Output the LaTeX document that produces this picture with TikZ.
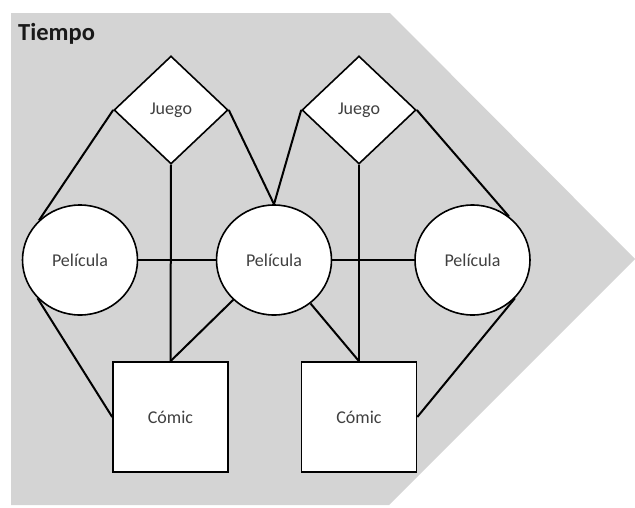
\documentclass[tikz,border=0pt]{standalone}
\usepackage{fontspec}
\setmainfont{Carlito}
\usetikzlibrary{shapes.geometric}
\definecolor{bggray}{RGB}{212,212,212}
\definecolor{txt}{RGB}{64,64,64}
\begin{document}
\begin{tikzpicture}[x=1pt,y=-1pt,
  shp/.style={draw=black,fill=white,line width=1.6pt,inner sep=0pt,text=txt,font=\fontsize{18}{20}\selectfont},
  juego/.style={shp,diamond,minimum width=114pt,minimum height=108pt},
  peli/.style={shp,ellipse,minimum width=115pt,minimum height=110pt},
  comic/.style={shp,rectangle,minimum width=115pt,minimum height=110pt},
  conn/.style={line width=2pt,draw=black}]
\useasboundingbox (0,0) rectangle (635,507);
\fill[bggray] (11,13) -- (390,13) -- (635,259) -- (389,505) -- (11,505) -- cycle;
\node[anchor=base west,inner sep=0pt,text=black!90,font=\bfseries\fontsize{24.5}{28}\selectfont] (title) at (18,40) {Tiempo};
\node[juego] (D1) at (171,110) {Juego};
\node[juego] (D2) at (359,110) {Juego};
\node[peli] (P1) at (80,260) {Película};
\node[peli] (P2) at (274,260) {Película};
\node[peli] (P3) at (472.5,260) {Película};
\node[comic] (C1) at (170.5,417) {Cómic};
\node[comic] (C2) at (359,417) {Cómic};
\draw[conn] (P1.136) -- (D1.west);
\draw[conn] (P1.222) -- (C1.west);
\draw[conn] (P1.east) -- (P2.west);
\draw[conn] (D1.south) -- (C1.north);
\draw[conn] (D1.east) -- (P2.north);
\draw[conn] (D2.west) -- (P2.north);
\draw[conn] (C1.north) -- (P2);
\draw[conn] (C2.north) -- (P2);
\draw[conn] (P2.east) -- (P3.west);
\draw[conn] (D2.south) -- (C2.north);
\draw[conn] (D2.east) -- (P3.50);
\draw[conn] (P3.-42) -- (C2.east);
\end{tikzpicture}
\end{document}
